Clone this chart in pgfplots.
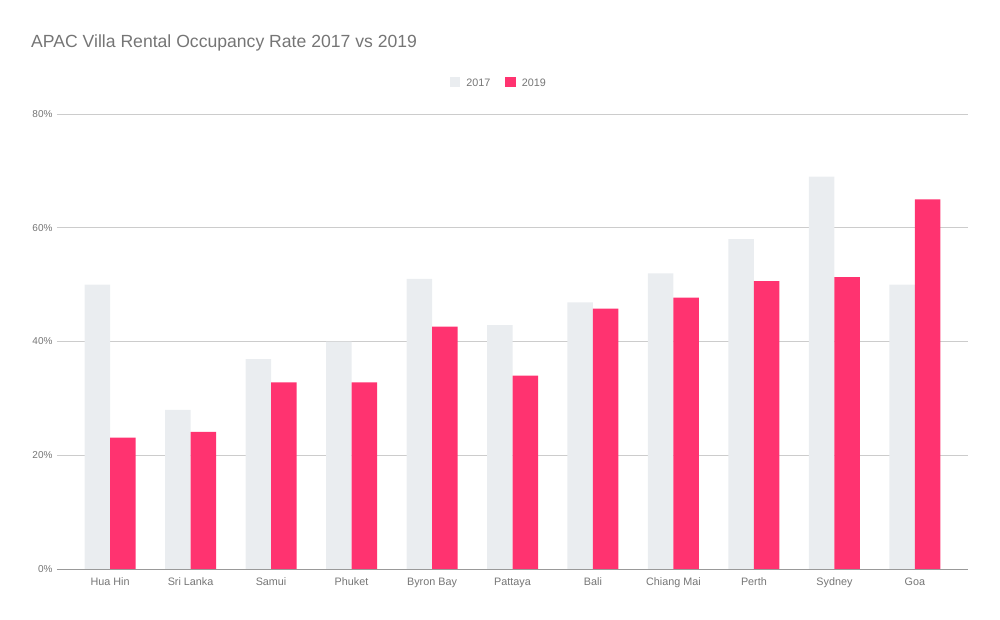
\documentclass[border=0pt]{standalone}
\usepackage{pgfplots}
\pgfplotsset{compat=1.18}
\usepackage{fontspec}
\setmainfont{Liberation Sans}

\definecolor{bar17}{HTML}{EAEDF0}
\definecolor{bar19}{HTML}{FF3370}
\definecolor{txtgray}{HTML}{757575}
\definecolor{gridgray}{HTML}{CCCCCC}
\definecolor{axisgray}{HTML}{999999}

\begin{document}
\begin{tikzpicture}[x=1pt,y=1pt]
    \path[use as bounding box] (-57,-50) rectangle (943,569);
    \begin{axis}[
        at={(0,0)}, anchor=south west,
        scale only axis,
        width=911pt, height=455pt,
        ybar=0,
        bar width=25.5pt,
        xmin=-0.66, xmax=10.66,
        ymin=0, ymax=80,
        xtick={0,...,10},
        xticklabels={Hua Hin,Sri Lanka,Samui,Phuket,Byron Bay,Pattaya,Bali,Chiang Mai,Perth,Sydney,Goa},
        ytick={0,20,40,60,80},
        yticklabel={\pgfmathprintnumber{\tick}\%},
        /pgf/number format/assume math mode=true,
        major tick length=0pt,
        axis line style={draw=none},
        ymajorgrids=true,
        grid style={gridgray, line width=0.8pt},
        yticklabel style={xshift=-1pt, font=\fontsize{10}{12}\selectfont, text=txtgray},
        xticklabel style={yshift=-5pt, text height=8pt, text depth=2pt,
                          font=\fontsize{10.8}{13}\selectfont, text=txtgray},
        legend columns=2,
        legend style={
            at={(0.485,1.068)}, anchor=center,
            draw=none, fill=none,
            font=\fontsize{10.8}{13}\selectfont, text=txtgray,
            /tikz/every odd column/.append style={column sep=4pt},
            /tikz/every even column/.append style={column sep=13pt},
        },
        legend image code/.code={\fill[#1] (0pt,-4pt) rectangle (10.5pt,6.5pt);},
        clip=false,
    ]
        \addplot[fill=bar17, draw=none] coordinates {
            (0,50.0) (1,28.0) (2,36.9) (3,40.0) (4,51.0) (5,42.9)
            (6,46.9) (7,52.0) (8,58.0) (9,69.0) (10,50.0)};
        \addplot[fill=bar19, draw=none] coordinates {
            (0,23.1) (1,24.1) (2,32.8) (3,32.8) (4,42.6) (5,34.0)
            (6,45.8) (7,47.7) (8,50.6) (9,51.3) (10,65.0)};
        \draw[axisgray, line width=1pt] (axis cs:-0.66,0) -- (axis cs:10.66,0);
        \legend{2017,2019}
    \end{axis}
    \node[anchor=base west, inner sep=0pt, text=txtgray,
          font=\fontsize{17.6}{21}\selectfont] at (-26,521)
          {APAC Villa Rental Occupancy Rate 2017 vs 2019};
\end{tikzpicture}
\end{document}
